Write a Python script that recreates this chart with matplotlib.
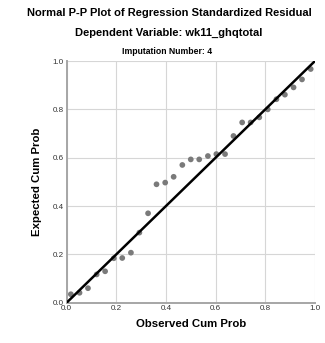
import matplotlib
matplotlib.use("Agg")
import matplotlib.pyplot as plt

plt.rcParams["font.family"] = ["Liberation Sans", "DejaVu Sans"]

# Observed vs expected cumulative probabilities of the standardized residuals
observed = [0.017, 0.052, 0.086, 0.121, 0.155, 0.190, 0.224, 0.259, 0.293, 0.328,
            0.362, 0.397, 0.431, 0.466, 0.500, 0.534, 0.569, 0.603, 0.638, 0.672,
            0.707, 0.741, 0.776, 0.810, 0.845, 0.879, 0.914, 0.948, 0.983]
expected = [0.035, 0.041, 0.060, 0.117, 0.130, 0.184, 0.185, 0.207, 0.290, 0.370,
            0.490, 0.497, 0.521, 0.570, 0.593, 0.593, 0.607, 0.615, 0.615, 0.690,
            0.746, 0.746, 0.767, 0.800, 0.842, 0.861, 0.891, 0.924, 0.967]
ticks = [0.0, 0.2, 0.4, 0.6, 0.8, 1.0]
tick_labels = ["0.0", "0.2", "0.4", "0.6", "0.8", "1.0"]
ref_line = [0.0, 1.0]

fig = plt.figure(figsize=(3.25, 3.43), dpi=100)
ax = fig.add_axes([0.205, 0.1175, 0.764, 0.7045])

ax.plot(ref_line, ref_line, color="black", linewidth=1.8, zorder=3)
ax.scatter(observed, expected, s=17, color="#7a7a7a", edgecolors="none", zorder=2)

ax.set_xlim(0, 1)
ax.set_ylim(0, 1)
ax.set_xticks(ticks)
ax.set_yticks(ticks)
ax.set_xticklabels(tick_labels)
ax.set_yticklabels(tick_labels)
ax.tick_params(length=0, labelsize=5.8, colors="#333333", pad=2)
ax.grid(True, color="#d6d6d6", linewidth=0.8)
ax.set_axisbelow(True)

for side in ["top", "right"]:
    ax.spines[side].set_visible(False)
for side in ["left", "bottom"]:
    ax.spines[side].set_color("#a6a6a6")
    ax.spines[side].set_linewidth(1.4)

ax.set_xlabel("Observed Cum Prob", fontsize=8.2, fontweight="bold", labelpad=5)
ax.set_ylabel("Expected Cum Prob", fontsize=8.2, fontweight="bold", labelpad=8)

fig.text(0.52, 1 - 13 / 343, "Normal P-P Plot of Regression Standardized Residual",
         ha="center", va="center", fontsize=8, fontweight="bold")
fig.text(0.52, 1 - 33 / 343, "Dependent Variable: wk11_ghqtotal",
         ha="center", va="center", fontsize=8, fontweight="bold")
fig.text(0.515, 1 - 52 / 343, "Imputation Number: 4",
         ha="center", va="center", fontsize=6.2, fontweight="bold")

fig.savefig("out.png", dpi=100)
